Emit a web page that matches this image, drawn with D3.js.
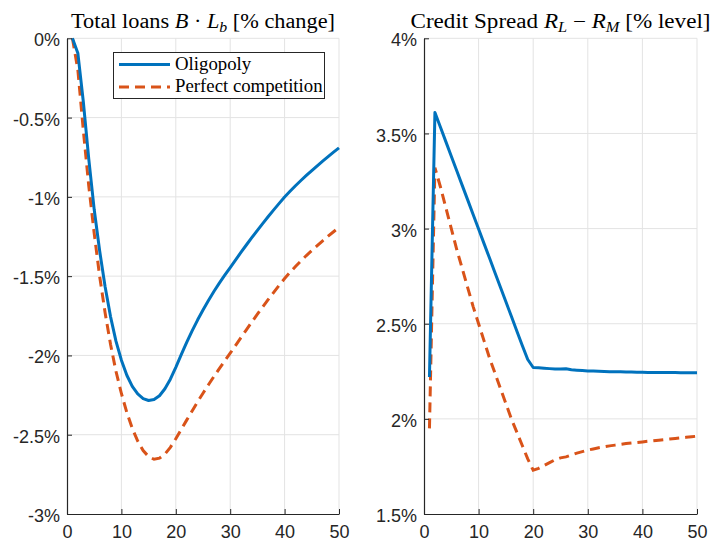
<!DOCTYPE html>
<html>
<head>
<meta charset="utf-8">
<script src="https://cdn.jsdelivr.net/npm/d3@7"></script>
<style>
  html, body { margin: 0; padding: 0; background: #fff; }
  svg { display: block; }
</style>
</head>
<body>
<svg id="chart" width="712" height="542"></svg>
<script>
// ---------- data ----------
const periods = d3.range(1, 51);

const loansOligopoly = [
  0, -0.095, -0.40, -0.76, -1.08, -1.34, -1.565, -1.755, -1.91, -2.03,
  -2.125, -2.195, -2.243, -2.272, -2.284, -2.278, -2.254, -2.21, -2.15, -2.075,
  -1.995, -1.918, -1.845, -1.777, -1.713, -1.653, -1.597, -1.544, -1.494, -1.446,
  -1.397, -1.349, -1.302, -1.256, -1.211, -1.167, -1.124, -1.082, -1.041, -1.001,
  -0.965, -0.930, -0.897, -0.865, -0.834, -0.804, -0.775, -0.746, -0.718, -0.691
];
const loansPerfect = [
  0, -0.20, -0.58, -0.93, -1.23, -1.50, -1.73, -1.93, -2.10, -2.24,
  -2.36, -2.46, -2.54, -2.60, -2.638, -2.655, -2.648, -2.622, -2.58, -2.525,
  -2.467, -2.408, -2.35, -2.293, -2.238, -2.185, -2.133, -2.083, -2.034, -1.986,
  -1.936, -1.886, -1.837, -1.788, -1.740, -1.693, -1.647, -1.602, -1.558, -1.515,
  -1.476, -1.439, -1.404, -1.370, -1.338, -1.307, -1.277, -1.248, -1.220, -1.193
];
const spreadOligopoly = [
  2.22, 3.61, 3.534, 3.457, 3.38, 3.304, 3.227, 3.151, 3.074, 2.998,
  2.921, 2.845, 2.768, 2.692, 2.615, 2.539, 2.462, 2.386, 2.312, 2.27,
  2.268, 2.266, 2.264, 2.262, 2.262, 2.263, 2.258, 2.256, 2.254, 2.252,
  2.251, 2.250, 2.249, 2.248, 2.247, 2.247, 2.246, 2.246, 2.245, 2.245,
  2.244, 2.244, 2.244, 2.243, 2.243, 2.243, 2.242, 2.242, 2.242, 2.242
];
const spreadPerfect = [
  1.95, 3.32, 3.22, 3.11, 3.00, 2.89, 2.79, 2.69, 2.59, 2.50,
  2.41, 2.32, 2.24, 2.16, 2.08, 2.00, 1.93, 1.86, 1.79, 1.73,
  1.74, 1.755, 1.77, 1.785, 1.795, 1.80, 1.81, 1.82, 1.828, 1.836,
  1.842, 1.848, 1.853, 1.858, 1.862, 1.866, 1.870, 1.873, 1.876, 1.879,
  1.882, 1.885, 1.888, 1.891, 1.894, 1.897, 1.900, 1.903, 1.906, 1.909
];

const xTicks = [0, 10, 20, 30, 40, 50];
const loansTicks = [-3, -2.5, -2, -1.5, -1, -0.5, 0];
const loansTickLabels = ["-3%", "-2.5%", "-2%", "-1.5%", "-1%", "-0.5%", "0%"];
const spreadTicks = [1.5, 2, 2.5, 3, 3.5, 4];
const spreadTickLabels = ["1.5%", "2%", "2.5%", "3%", "3.5%", "4%"];
const seriesNames = ["Oligopoly", "Perfect competition"];

// ---------- styles ----------
const COL_BLUE = "#0072BD";
const COL_ORANGE = "#D95319";
const DASH = "10,6";
const AXIS_COL = "#262626";
const GRID_COL = "#e3e3e3";
const TICK_FONT = "'Liberation Sans', Arial, Helvetica, sans-serif";
const SERIF = "'Liberation Serif', 'Times New Roman', serif";

const svg = d3.select("#chart");
svg.append("rect").attr("width", 712).attr("height", 542).attr("fill", "#fff");

function panel(opts) {
  const x = d3.scaleLinear().domain([0, 50]).range([opts.x0, opts.x1]);
  const y = d3.scaleLinear().domain(opts.yDomain).range([opts.yBottom, opts.yTop]);
  const g = svg.append("g");

  // grid
  g.append("g").selectAll("line").data(xTicks.filter(d => d > 0)).join("line")
    .attr("x1", d => x(d)).attr("x2", d => x(d))
    .attr("y1", y(opts.yDomain[0])).attr("y2", y(opts.yDomain[1]))
    .attr("stroke", GRID_COL).attr("stroke-width", 1);
  g.append("g").selectAll("line").data(opts.yTicks.filter(d => d > opts.yDomain[0])).join("line")
    .attr("x1", x(0)).attr("x2", x(50))
    .attr("y1", d => y(d)).attr("y2", d => y(d))
    .attr("stroke", GRID_COL).attr("stroke-width", 1);

  // lines
  const line = d3.line().x((d, i) => x(periods[i])).y(d => y(d));
  g.append("path").datum(opts.s2).attr("d", line)
    .attr("fill", "none").attr("stroke", COL_ORANGE).attr("stroke-width", 3)
    .attr("stroke-dasharray", DASH);
  g.append("path").datum(opts.s1).attr("d", line)
    .attr("fill", "none").attr("stroke", COL_BLUE).attr("stroke-width", 3)
    .attr("stroke-linejoin", "round");

  // axes
  const ax = g.append("g").attr("transform", `translate(0,${opts.yBottom})`)
    .call(d3.axisBottom(x).tickValues(xTicks).tickSize(-5).tickSizeOuter(0).tickPadding(10));
  const ay = g.append("g").attr("transform", `translate(${opts.x0},0)`)
    .call(d3.axisLeft(y).tickValues(opts.yTicks)
      .tickFormat((d, i) => opts.yLabels[i]).tickSize(-5).tickSizeOuter(0).tickPadding(7));
  [ax, ay].forEach(a => {
    a.select(".domain").attr("stroke", AXIS_COL).attr("stroke-width", 1.2);
    a.selectAll(".tick line").attr("stroke", AXIS_COL).attr("stroke-width", 1);
    a.selectAll(".tick text").attr("fill", AXIS_COL)
      .style("font-family", TICK_FONT).style("font-size", "18px");
  });
  ax.selectAll(".tick text").attr("dy", "0.75em");
  ay.selectAll(".tick text").attr("dy", "0.42em");

  // title
  const t = svg.append("text")
    .attr("x", (opts.x0 + opts.x1) / 2).attr("y", 28)
    .attr("text-anchor", "middle")
    .attr("textLength", opts.titleWidth).attr("lengthAdjust", "spacingAndGlyphs")
    .style("font-family", SERIF).style("font-size", "20.5px").attr("fill", "#000");
  opts.title.forEach(p => {
    const ts = t.append("tspan").text(p.s);
    if (p.i) ts.style("font-style", "italic");
    if (p.sub) ts.attr("baseline-shift", "-25%").style("font-size", "14.5px");
  });
  return { x, y, g };
}

panel({
  x0: 67, x1: 339, yTop: 38.3, yBottom: 514,
  yDomain: [-3, 0], yTicks: loansTicks, yLabels: loansTickLabels,
  s1: loansOligopoly, s2: loansPerfect, titleWidth: 264,
  title: [{ s: "Total loans " }, { s: "B", i: true }, { s: " · " }, { s: "L", i: true },
          { s: "b", i: true, sub: true }, { s: " [% change]" }]
});

panel({
  x0: 424, x1: 697, yTop: 38.3, yBottom: 514,
  yDomain: [1.5, 4], yTicks: spreadTicks, yLabels: spreadTickLabels,
  s1: spreadOligopoly, s2: spreadPerfect, titleWidth: 300,
  title: [{ s: "Credit Spread " }, { s: "R", i: true }, { s: "L", i: true, sub: true },
          { s: " − " }, { s: "R", i: true }, { s: "M", i: true, sub: true }, { s: " [% level]" }]
});

// legend
const lg = svg.append("g");
lg.append("rect").attr("x", 113.5).attr("y", 52.5).attr("width", 211).attr("height", 46)
  .attr("fill", "#fff").attr("stroke", AXIS_COL).attr("stroke-width", 1);
const legendItems = [
  { name: seriesNames[0], col: COL_BLUE, dash: null, y: 64.5 },
  { name: seriesNames[1], col: COL_ORANGE, dash: DASH, y: 87 }
];
legendItems.forEach(it => {
  lg.append("line").attr("x1", 119).attr("x2", 170).attr("y1", it.y).attr("y2", it.y)
    .attr("stroke", it.col).attr("stroke-width", 3)
    .attr("stroke-dasharray", it.dash);
  lg.append("text").attr("x", 175).attr("y", it.y + 5)
    .style("font-family", SERIF).style("font-size", "18.8px").attr("fill", "#000")
    .text(it.name);
});
</script>
</body>
</html>
